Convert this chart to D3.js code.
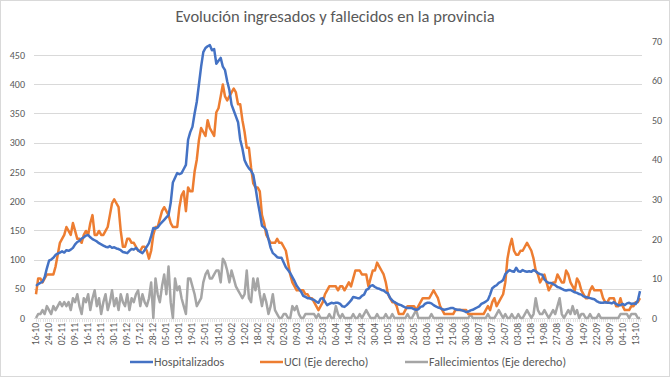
<!DOCTYPE html>
<html>
<head>
<meta charset="utf-8">
<script src="https://cdn.jsdelivr.net/npm/d3@7"></script>
<style>
  body { margin: 0; background: #fff; }
  text { font-family: Carlito, Lato, "Open Sans", sans-serif; fill: #595959; }
</style>
</head>
<body>
<div id="chart"></div>
<script>
// etiquetas del eje X (una cada 6 registros)
const tickLabels = ["16-10","24-10","02-11","09-11","16-11","23-11","30-11","09-12","17-12","28-12",
  "05-01","13-01","19-01","25-01","31-01","06-02","12-02","18-02","24-02","02-03",
  "09-03","16-03","25-03","06-04","14-04","22-04","30-04","10-05","18-05","26-05",
  "03-06","11-06","21-06","30-06","08-07","16-07","26-07","03-08","11-08","19-08",
  "27-08","06-09","14-09","22-09","30-09","04-10","13-10"];

// eje izquierdo
const hospitalizados = [
  55,58,60,62,70,85, 98,100,103,108,110,112, 114,112,116,115,117,120, 126,130,132,136,138,141,
  142,138,135,133,131,128, 126,124,122,121,123,120, 121,119,118,116,113,112, 111,115,118,117,120,116,
  113,111,116,122,128,140, 154,153,155,160,164,168, 172,176,197,232,240,248, 246,248,255,262,305,318,
  327,350,370,400,430,455, 462,465,467,458,460,435, 440,445,430,424,405,390, 365,355,345,335,305,290,
  270,262,256,252,245,224, 200,180,158,155,150,135, 120,111,108,104,103,103, 95,87,82,77,70,63,
  55,50,45,38,36,34, 34,32,31,28,26,33, 34,28,22,24,26,25, 26,26,24,20,19,22,
  26,30,36,35,34,34, 38,40,48,50,55,56, 53,51,50,48,47,44, 42,34,30,27,25,23,
  22,20,18,17,17,17, 15,14,15,19,20,24, 26,26,25,22,20,18, 17,15,14,15,16,17,
  17,15,14,14,13,12, 10,11,13,14,16,18, 20,24,26,28,31,40, 51,54,56,60,62,65,
  75,79,82,80,79,86, 80,79,82,80,79,80, 79,82,80,77,75,74, 66,62,60,60,58,56,
  53,52,50,48,47,48, 48,46,44,43,41,40, 37,36,35,34,33,32, 29,27,26,26,27,26,
  26,25,27,24,22,22, 24,22,25,26,24,25, 24,30,46];

// eje derecho
const uci = [
  6,10,10,9,10,11, 11,11,11,13,16,19, 20,21,23,22,21,24, 22,20,20,19,21,22,
  21,24,26,21,21,22, 21,21,22,23,26,29, 30,29,28,22,18,18, 20,20,19,19,18,17,
  17,18,18,17,15,17, 21,23,23,25,27,28, 27,26,24,23,23,23, 28,31,32,27,33,32,
  32,37,40,45,48,47, 46,50,48,47,46,52, 53,56,59,56,55,56, 57,58,57,54,54,50,
  47,43,43,38,34,33, 33,32,26,24,21,20, 19,19,19,20,19,19, 18,17,14,11,9,8,
  7,7,7,7,6,6, 5,5,4,3,2,3, 4,6,7,8,8,8, 8,7,8,8,7,8,
  9,8,10,12,12,12, 11,11,11,8,10,12, 12,14,13,12,11,9, 6,5,4,4,3,1,
  1,1,2,3,3,3, 3,2,3,4,5,5, 5,5,6,7,6,5, 3,2,1,1,1,1,
  1,2,2,2,2,2, 2,1,1,1,1,1, 1,1,1,2,3,2, 4,5,3,4,5,6,
  9,15,18,20,17,16, 16,17,17,18,19,18, 17,15,12,11,9,10, 11,9,7,8,9,9,
  11,10,9,9,12,11, 9,8,7,10,9,7, 6,5,5,7,8,7, 7,7,7,5,4,4,
  5,5,5,3,3,5, 3,2,2,2,3,3, 4,4,5];

// eje derecho
const fallecimientos = [
  0,1,1,2,1,3, 2,1,3,2,3,4, 3,4,3,4,2,5, 4,6,3,1,5,4,
  6,2,5,7,3,5, 1,4,6,2,4,7, 3,5,2,6,4,3, 6,2,5,4,6,7,
  3,6,4,3,5,9, 0,10,6,4,8,11, 6,13,4,0,10,7, 8,5,3,1,10,10,
  8,6,3,4,5,9, 11,12,10,10,11,12, 12,9,15,14,12,9, 12,10,8,7,6,5,
  6,12,5,4,10,7, 10,6,3,6,4,1, 3,6,2,1,0,0, 1,1,0,0,3,2,
  3,1,0,0,1,1, 1,1,1,0,1,0, 0,0,0,1,0,0, 3,1,0,1,0,0,
  0,0,1,0,0,1, 0,1,2,1,0,0, 0,1,0,0,0,1, 0,0,1,0,0,0,
  0,0,0,1,0,0, 1,2,0,0,0,0, 0,0,1,0,0,0, 0,0,0,0,0,0,
  0,0,0,0,0,0, 0,0,1,0,0,0, 0,0,0,0,1,0, 0,0,1,2,1,0,
  1,0,0,1,0,0, 1,0,0,1,2,1, 0,1,5,2,1,1, 2,1,0,1,2,1,
  3,5,1,0,1,2, 1,3,1,2,0,1, 1,0,0,1,0,0, 0,1,0,0,0,0,
  0,0,0,0,0,1, 1,1,1,0,1,1, 1,0,0];

const leftTicks = [0,50,100,150,200,250,300,350,400,450];
const rightTicks = [0,10,20,30,40,50,60,70];
const seriesNames = ["Hospitalizados", "UCI (Eje derecho)", "Fallecimientos (Eje derecho)"];
const colors = ["#4472C4", "#ED7D31", "#A5A5A5"];

var W = 670, H = 377;
var margin = { top: 41, right: 28, bottom: 59, left: 34 };
var width = W - margin.left - margin.right;
var height = H - margin.top - margin.bottom;
var tickEvery = 6;

var svg = d3.select("#chart")
  .append("svg")
  .attr("width", W)
  .attr("height", H);

// marco
svg.append("rect")
  .attr("x", 0.5).attr("y", 0.5)
  .attr("width", W - 1).attr("height", H - 1)
  .attr("fill", "#fff")
  .attr("stroke", "#d9d9d9");

svg.append("text")
  .attr("x", W / 2)
  .attr("y", 22)
  .attr("text-anchor", "middle")
  .style("font-size", "16.5px")
  .text("Evolución ingresados y fallecidos en la provincia");

var g = svg.append("g")
  .attr("transform", "translate(" + margin.left + "," + margin.top + ")");

var n = hospitalizados.length;
var x = d3.scaleLinear().domain([0, n - 1]).range([2, width - 2]);
var yR = d3.scaleLinear().domain([0, 70]).range([height, 0]);
var yL = d3.scaleLinear().domain([0, 450 * 277 / 263]).range([height, 0]);

// rejilla
g.append("g")
  .selectAll("line")
  .data(leftTicks.slice(1))
  .enter()
  .append("line")
  .attr("x1", 0).attr("x2", width)
  .attr("y1", (d) => Math.round(yL(d)) + 0.5)
  .attr("y2", (d) => Math.round(yL(d)) + 0.5)
  .style("stroke", "#d9d9d9");

// eje izquierdo
var axL = g.append("g")
  .call(d3.axisLeft(yL).tickValues(leftTicks).tickSize(0).tickPadding(9));
axL.select(".domain").remove();
axL.selectAll("text").style("font-size", "10px").style("fill", "#595959");

// eje derecho
var axR = g.append("g")
  .attr("transform", "translate(" + width + ",0)")
  .call(d3.axisRight(yR).tickValues(rightTicks).tickSize(0).tickPadding(10));
axR.select(".domain").remove();
axR.selectAll("text").style("font-size", "10px").style("fill", "#595959");

// eje x
var base = g.append("g").attr("transform", "translate(0," + height + ")");
base.append("line")
  .attr("x1", 0).attr("x2", width)
  .attr("y1", 0.5).attr("y2", 0.5)
  .style("stroke", "#d9d9d9");
base.selectAll(".tk")
  .data(d3.range(n))
  .enter()
  .append("line")
  .attr("class", "tk")
  .attr("x1", (d) => Math.round(x(d)) + 0.5)
  .attr("x2", (d) => Math.round(x(d)) + 0.5)
  .attr("y1", 0).attr("y2", 4)
  .style("stroke", "#e4e4e4");
base.selectAll(".lbl")
  .data(tickLabels)
  .enter()
  .append("text")
  .attr("class", "lbl")
  .attr("text-anchor", "end")
  .attr("transform", (d, i) => "translate(" + (x(i * tickEvery) + 3) + ",5) rotate(-90)")
  .style("font-size", "9.5px")
  .text((d) => d);

// lineas
var series = [
  { values: fallecimientos, scale: yR, color: colors[2] },
  { values: uci, scale: yR, color: colors[1] },
  { values: hospitalizados, scale: yL, color: colors[0] }
];
series.forEach(function (s) {
  var line = d3.line()
    .x((d, i) => x(i))
    .y((d) => s.scale(d));
  g.append("path")
    .datum(s.values)
    .attr("fill", "none")
    .attr("stroke", s.color)
    .attr("stroke-width", 2.5)
    .attr("stroke-linejoin", "round")
    .attr("d", line);
});

// leyenda
var legendX = [130, 260, 405];
var legend = svg.append("g").attr("transform", "translate(0,362)");
seriesNames.forEach(function (name, i) {
  legend.append("line")
    .attr("x1", legendX[i]).attr("x2", legendX[i] + 23)
    .attr("y1", 0).attr("y2", 0)
    .attr("stroke", colors[i])
    .attr("stroke-width", 2.5);
  legend.append("text")
    .attr("x", legendX[i] + 24)
    .attr("y", 4)
    .style("font-size", "12px")
    .text(name);
});
</script>
</body>
</html>
